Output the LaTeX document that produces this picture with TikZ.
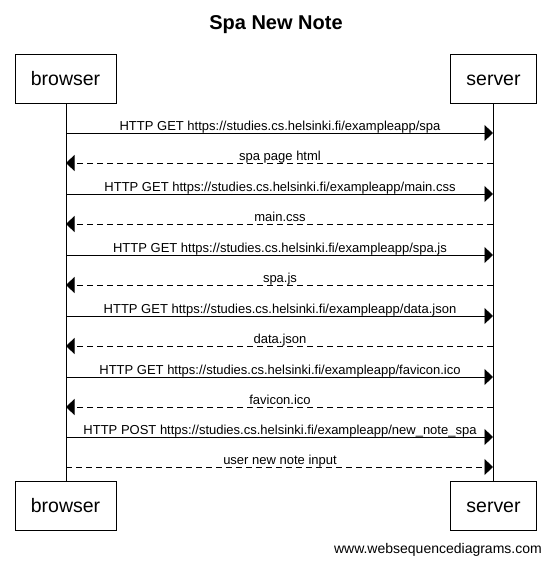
\documentclass[tikz,border=0pt]{standalone}
\usepackage{fontspec}
\setmainfont{Liberation Sans}
\usetikzlibrary{arrows.meta}
\begin{document}
\begin{tikzpicture}[x=1pt,y=-1pt,
  actor/.style={draw,line width=0.8pt,minimum width=101pt,minimum height=49pt,inner sep=0pt,text height=14.5pt,text depth=0pt,font=\fontsize{19.5}{22}\selectfont},
  actorS/.style={actor,minimum width=86pt},
  lifeline/.style={line width=0.8pt},
  msg/.style={line width=0.8pt,-{Triangle[length=8.5pt,width=16pt]}},
  reply/.style={msg,dash pattern=on 6pt off 4pt},
  lbl/.style={font=\fontsize{13}{15}\selectfont,inner sep=0pt,anchor=base}]
\useasboundingbox (0,0) rectangle (551,563);
\node[font=\fontsize{20}{23}\selectfont\bfseries,anchor=base,inner sep=0pt] (title) at (276,29.5) {Spa New Note};
\node[actor] (b1) at (65.5,78.5) {browser};
\node[actorS] (s1) at (493.5,78.5) {server};
\node[actor] (b2) at (65.5,505.5) {browser};
\node[actorS] (s2) at (493.5,505.5) {server};
\coordinate (bx) at (66,0);
\coordinate (sx) at (493,0);
\draw[lifeline] (b1.south -| bx) -- (b2.north -| bx);
\draw[lifeline] (s1.south -| sx) -- (s2.north -| sx);
\foreach \y/\t/\st/\dir in {
  133/{HTTP GET https://studies.cs.helsinki.fi/exampleapp/spa}/msg/r,
  163/{spa page html}/reply/l,
  194/{HTTP GET https://studies.cs.helsinki.fi/exampleapp/main.css}/msg/r,
  224/{main.css}/reply/l,
  255/{HTTP GET https://studies.cs.helsinki.fi/exampleapp/spa.js}/msg/r,
  285/{spa.js}/reply/l,
  316/{HTTP GET https://studies.cs.helsinki.fi/exampleapp/data.json}/msg/r,
  346/{data.json}/reply/l,
  377/{HTTP GET https://studies.cs.helsinki.fi/exampleapp/favicon.ico}/msg/r,
  407/{favicon.ico}/reply/l,
  437/{HTTP POST https://studies.cs.helsinki.fi/exampleapp/new\_note\_spa}/msg/r,
  467/{user new note input}/reply/r}{
  \coordinate (L\y) at (66,\y);
  \coordinate (R\y) at (493,\y);
  \if r\dir
    \draw[\st] (L\y) -- (R\y);
  \else
    \draw[\st] (R\y) -- (L\y);
  \fi
  \node[lbl] (t\y) at (280,\y-3) {\t};
}
\node[font=\fontsize{14}{16}\selectfont,anchor=base east,inner sep=0pt] (foot) at (542,553) {www.websequencediagrams.com};
\end{tikzpicture}
\end{document}
